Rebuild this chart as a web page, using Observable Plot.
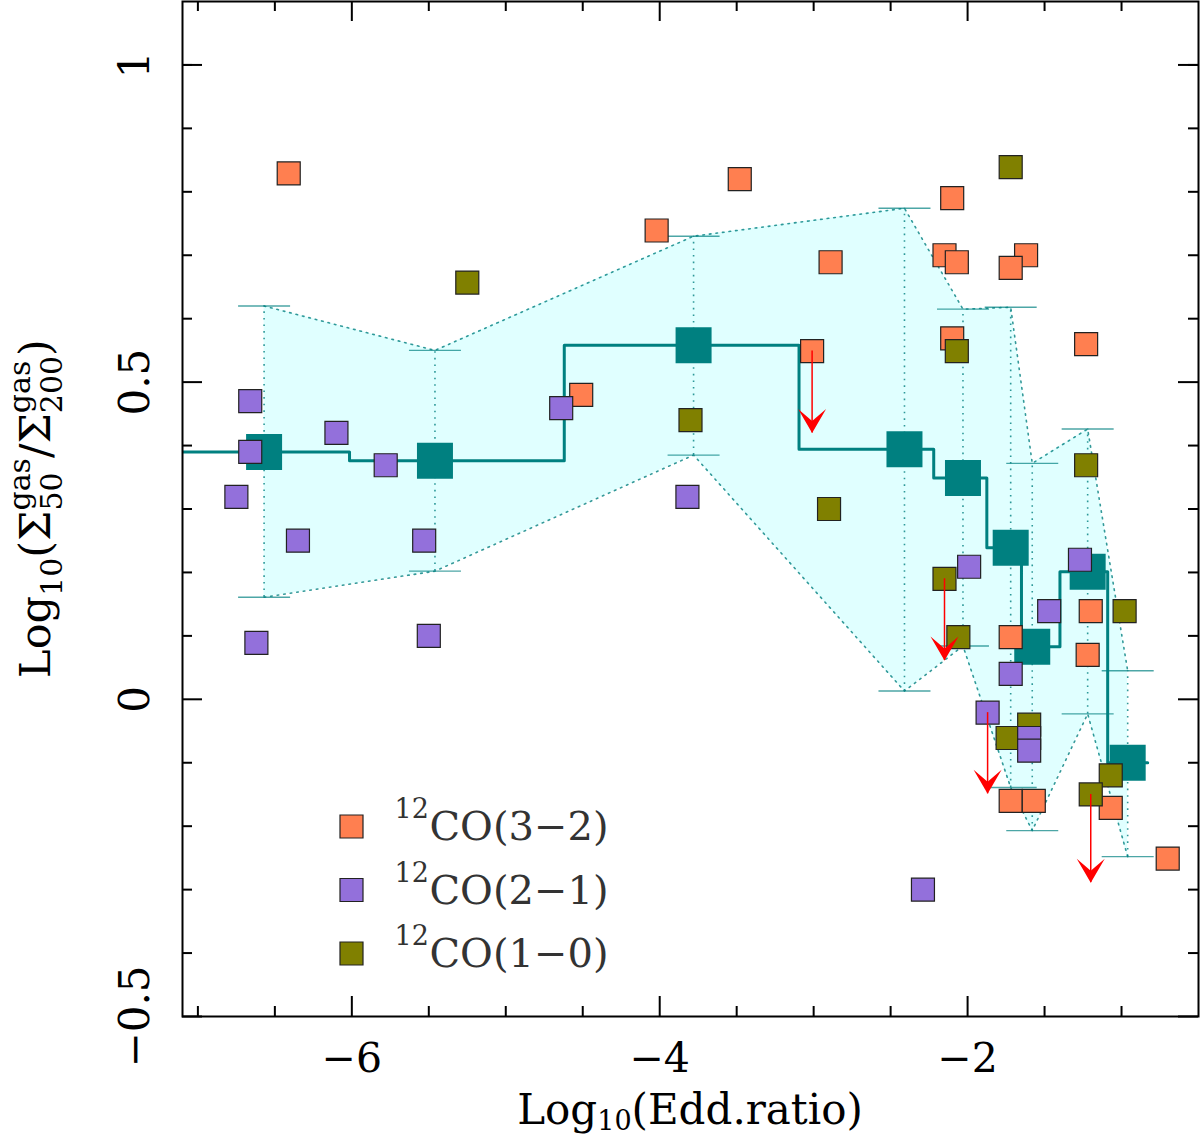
<!DOCTYPE html>
<html lang="en">
<head>
<meta charset="utf-8">
<title>Gas concentration vs Eddington ratio</title>
<script src="https://cdn.jsdelivr.net/npm/d3@7"></script>
<script src="https://cdn.jsdelivr.net/npm/@observablehq/plot@0.6"></script>
<style>
  body { margin: 0; background: white; }
  #graphic svg { display: block; }
</style>
</head>
<body>
<div id="graphic"></div>
<script>

// individual galaxies, one pair of arrays per CO transition
const co32X = [-6.41, -3.48, -4.02, -2.89, -3.01, -4.51, -2.10, -2.15, -2.07, -1.62,
               -1.72, -2.10, -1.23, -1.72, -1.20, -1.22, -1.72, -1.57, -1.07, -0.70];
const co32Y = [0.829, 0.820, 0.739, 0.689, 0.549, 0.480, 0.790, 0.700, 0.689, 0.700,
               0.680, 0.569, 0.560, 0.098, 0.139, 0.070, -0.160, -0.160, -0.171, -0.251];

const co21X = [-6.66, -6.66, -6.10, -5.78, -6.75, -6.35, -5.53, -6.62, -5.50, -4.64,
               -3.82, -1.99, -1.87, -1.72, -1.60, -1.60, -1.47, -1.27, -2.29];
const co21Y = [0.470, 0.390, 0.420, 0.369, 0.319, 0.250, 0.250, 0.089, 0.100, 0.459,
               0.319, 0.209, -0.021, 0.040, -0.061, -0.081, 0.139, 0.220, -0.300];

const co10X = [-5.25, -3.80, -2.90, -1.72, -2.07, -1.23, -2.15, -2.06, -1.74, -1.60,
               -0.98, -1.07, -1.20];
const co10Y = [0.657, 0.440, 0.300, 0.839, 0.549, 0.369, 0.190, 0.098, -0.061, -0.040,
               0.139, -0.120, -0.150];

// upper limits (red arrows): start value and arrow tip
const limX   = [-3.01, -2.15, -1.87, -1.20];
const limY   = [0.549, 0.190, -0.021, -0.150];
const limTip = [0.420, 0.061, -0.149, -0.289];

// binned medians with their ranges
const binX   = [-6.57, -5.46, -3.78, -2.41, -2.03, -1.72, -1.58, -1.22, -0.96];
const binMed = [0.390, 0.376, 0.558, 0.394, 0.349, 0.239, 0.083, 0.201, -0.100];
const binHi  = [0.620, 0.550, 0.730, 0.774, 0.615, 0.618, 0.372, 0.426, 0.045];
const binLo  = [0.161, 0.202, 0.385, 0.013, 0.084, -0.139, -0.207, -0.023, -0.248];

const seriesNames  = ["CO(3\u22122)", "CO(2\u22121)", "CO(1\u22120)"];
const seriesColors = ["#ff7f50", "#9370db", "#808000"];

const xLabelTicks = [-6, -4, -2];
const xMinorTicks = [-7, -6.5, -5.5, -5, -4.5, -3.5, -3, -2.5, -1.5, -1];
const yLabelTicks = [-0.5, 0, 0.5, 1];
const yMinorTicks = [-0.4, -0.3, -0.2, -0.1, 0.1, 0.2, 0.3, 0.4, 0.6, 0.7, 0.8, 0.9, 1.0];

const pts = (xs, ys) => xs.map((x, i) => ({x, y: ys[i]}));
const co32 = pts(co32X, co32Y);
const co21 = pts(co21X, co21Y);
const co10 = pts(co10X, co10Y);
const limits = limX.map((x, i) => ({x, y: limY[i], tip: limTip[i]}));
const bins = binX.map((x, i) => ({x, med: binMed[i], hi: binHi[i], lo: binLo[i]}));

// step line through the medians, steps half way between bins
const stepPts = [];
bins.forEach((b, i) => {
  const n = bins.length;
  const left = i === 0 ? b.x - (bins[1].x - b.x) / 2 : (bins[i - 1].x + b.x) / 2;
  const right = i === n - 1 ? b.x + (b.x - bins[i - 1].x) / 2 : (b.x + bins[i + 1].x) / 2;
  stepPts.push({x: left, y: b.med}, {x: right, y: b.med});
});

const W = 1200, H = 1138;
const mt = 1, mb = 122, ml = 182, mr = 2;
const innerH = H - mt - mb, innerW = W - ml - mr;
const font = "'DejaVu Serif', serif";
const teal = "#008080";
const small = 23 / Math.sqrt(Math.PI);
const big = 36 / Math.sqrt(Math.PI);

const capSymbol = {draw(ctx) { ctx.moveTo(-26, 0); ctx.lineTo(26, 0); }};
const dartSymbol = {draw(ctx) {
  ctx.moveTo(0, 0); ctx.lineTo(-14, -24); ctx.lineTo(0, -12); ctx.lineTo(14, -24); ctx.closePath();
}};

const sq = (data, color) => Plot.dot(data, {x: "x", y: "y", symbol: "square", r: small,
  fill: color, stroke: "#222", strokeWidth: 1.2});

const legendMarks = seriesNames.flatMap((name, i) => [
  Plot.dot([name], {frameAnchor: "bottom-left", dx: 169, dy: -190 + i * 63.5, symbol: "square",
    r: small, fill: seriesColors[i], stroke: "#222", strokeWidth: 1.2}),
  Plot.text([name], {frameAnchor: "bottom-left", dx: 212, dy: -207 + i * 63.5, text: () => "12",
    fontSize: 27, textAnchor: "start", lineAnchor: "middle", fill: "#333"}),
  Plot.text([name], {frameAnchor: "bottom-left", dx: 247, dy: -189 + i * 63.5, text: d => d,
    fontSize: 40, textAnchor: "start", lineAnchor: "middle", fill: "#333"})
]);

const chart = Plot.plot({
  width: W, height: H,
  marginTop: mt, marginBottom: mb, marginLeft: ml, marginRight: mr,
  style: {fontFamily: font, background: "white", color: "black"},
  x: {domain: [-7.1, -0.5]},
  y: {domain: [-0.5, 1.1]},
  marks: [
    Plot.areaY(bins, {x: "x", y1: "lo", y2: "hi", fill: "#e0ffff"}),
    Plot.line(bins, {x: "x", y: "hi", stroke: teal, strokeWidth: 1.6, strokeDasharray: "1.6,5", strokeOpacity: 0.8}),
    Plot.line(bins, {x: "x", y: "lo", stroke: teal, strokeWidth: 1.6, strokeDasharray: "1.6,5", strokeOpacity: 0.8}),
    Plot.ruleX(bins, {x: "x", y1: "lo", y2: "hi", stroke: teal, strokeWidth: 1.6, strokeDasharray: "1.6,5", strokeOpacity: 0.8}),
    Plot.dot(bins, {x: "x", y: "hi", symbol: capSymbol, r: 1, fill: "none", stroke: teal, strokeWidth: 1.4, strokeOpacity: 0.7}),
    Plot.dot(bins, {x: "x", y: "lo", symbol: capSymbol, r: 1, fill: "none", stroke: teal, strokeWidth: 1.4, strokeOpacity: 0.7}),
    Plot.line(stepPts, {x: "x", y: "y", stroke: teal, strokeWidth: 3, clip: true}),
    Plot.dot(bins, {x: "x", y: "med", symbol: "square", r: big, fill: teal}),
    sq(co32, seriesColors[0]),
    sq(co10, seriesColors[2]),
    sq(co21, seriesColors[1]),
    Plot.ruleX(limits, {x: "x", y1: "y", y2: "tip", stroke: "red", strokeWidth: 1.5}),
    Plot.dot(limits, {x: "x", y: "tip", symbol: dartSymbol, r: 1, fill: "red", stroke: "none"}),
    ...legendMarks,
    // inward ticks on all four sides
    Plot.ruleX(xMinorTicks, {x: d => d, insetTop: innerH - 10, strokeWidth: 2}),
    Plot.ruleX(xMinorTicks, {x: d => d, insetBottom: innerH - 10, strokeWidth: 2}),
    Plot.ruleX(xLabelTicks, {x: d => d, insetTop: innerH - 20, strokeWidth: 2}),
    Plot.ruleX(xLabelTicks, {x: d => d, insetBottom: innerH - 20, strokeWidth: 2}),
    Plot.ruleY(yMinorTicks, {y: d => d, insetRight: innerW - 10, strokeWidth: 2}),
    Plot.ruleY(yMinorTicks, {y: d => d, insetLeft: innerW - 10, strokeWidth: 2}),
    Plot.ruleY(yLabelTicks, {y: d => d, insetRight: innerW - 20, strokeWidth: 2}),
    Plot.ruleY(yLabelTicks, {y: d => d, insetLeft: innerW - 20, strokeWidth: 2}),
    Plot.axisX(xLabelTicks, {anchor: "bottom", tickSize: 0, tickPadding: 26, fontSize: 41,
      tickFormat: d3.format("~g"), label: null}),
    Plot.axisY(yLabelTicks, {anchor: "left", tickSize: 0, tickPadding: 34, tickRotate: -90, fontSize: 42,
      tickFormat: d3.format("~g"), label: null}),
    Plot.frame({stroke: "black", strokeWidth: 2})
  ]
});

document.getElementById("graphic").appendChild(chart);

// axis titles with sub- and superscripts
const svg = d3.select(chart);

const xl = svg.append("text")
  .attr("x", ml + innerW / 2).attr("y", 1124)
  .attr("text-anchor", "middle").attr("font-family", font).attr("font-size", 42).attr("fill", "black");
xl.append("tspan").text("Log");
xl.append("tspan").attr("font-size", 27).attr("dy", 6).text("10");
xl.append("tspan").attr("dy", -6).text("(Edd.ratio)");

const yl = svg.append("text")
  .attr("transform", `translate(50,${mt + innerH / 2}) rotate(-90)`)
  .attr("text-anchor", "middle").attr("font-family", font).attr("font-size", 43).attr("fill", "black");
yl.append("tspan").text("Log");
yl.append("tspan").attr("font-size", 30).attr("dy", 12).text("10");
yl.append("tspan").attr("dy", -12).text("(\u03A3");
const sub1 = yl.append("tspan").attr("font-size", 30).attr("dy", 12).text("50");
const sup1 = yl.append("tspan").attr("font-size", 30).attr("dy", -32).text("gas");
const mid = yl.append("tspan").attr("dy", 20).text("/\u03A3");
const sub2 = yl.append("tspan").attr("font-size", 30).attr("dy", 12).text("200");
const sup2 = yl.append("tspan").attr("font-size", 30).attr("dy", -32).text("gas");
const end = yl.append("tspan").attr("dy", 20).text(")");

function stack(sub, sup, next) {
  const ws = sub.node().getComputedTextLength();
  const wp = sup.node().getComputedTextLength();
  sup.attr("dx", -ws);
  if (ws > wp) next.attr("dx", ws - wp);
}
stack(sub1, sup1, mid);
stack(sub2, sup2, end);

</script>
</body>
</html>
